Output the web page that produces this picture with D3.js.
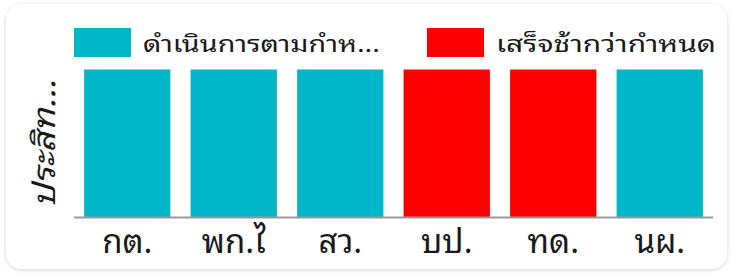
<!DOCTYPE html>
<html lang="th">
<head>
<meta charset="utf-8">
<script src="https://d3js.org/d3.v7.min.js"></script>
<style>
  body { margin: 0; background: #fff; }
  text { font-family: "Noto Sans Thai Looped", "Noto Sans", sans-serif; fill: #1a1a1a; }
</style>
</head>
<body>
<script>
// data
var categories = ["กต.", "พก.ไ", "สว.", "บป.", "ทด.", "นผ."];
var values = [1, 1, 1, 1, 1, 1];
var barStatus = ["ontime", "ontime", "ontime", "late", "late", "ontime"];
var legendKeys = ["ontime", "late"];
var legendLabels = ["ดำเนินการตามกำห...", "เสร็จช้ากว่ากำหนด"];
var yTitle = "ประสิท...";

var w = 731, h = 274;
var color = d3.scaleOrdinal().domain(legendKeys).range(["#00B6C9", "#FF0000"]);

var svg = d3.select("body").append("svg")
  .attr("width", w)
  .attr("height", h);

// card with soft border
var defs = svg.append("defs");
var f = defs.append("filter").attr("id", "sh").attr("x", "-5%").attr("y", "-5%").attr("width", "110%").attr("height", "110%");
f.append("feDropShadow").attr("dx", 0).attr("dy", 1).attr("stdDeviation", 2).attr("flood-color", "#000").attr("flood-opacity", 0.18);

svg.append("rect")
  .attr("x", 6).attr("y", 4)
  .attr("width", 721).attr("height", 265)
  .attr("rx", 16)
  .attr("fill", "#fff")
  .attr("filter", "url(#sh)");

var x = d3.scaleBand()
  .domain(categories)
  .range([74, 713])
  .paddingInner(0.19)
  .paddingOuter(0.095);

var y = d3.scaleLinear()
  .domain([0, d3.max(values)])
  .range([217.5, 69.5]);

// bars
svg.selectAll("rect.bar")
  .data(categories)
  .enter()
  .append("rect")
  .attr("class", "bar")
  .attr("x", function(d) { return x(d); })
  .attr("y", function(d, i) { return y(values[i]); })
  .attr("width", x.bandwidth())
  .attr("height", function(d, i) { return y(0) - y(values[i]); })
  .attr("fill", function(d, i) { return color(barStatus[i]); });

// x axis
var xAxis = svg.append("g")
  .attr("transform", "translate(0," + y(0) + ")")
  .call(d3.axisBottom(x).tickSize(0).tickPadding(10));
xAxis.select(".domain").attr("stroke", "#999").attr("stroke-width", 2).attr("d", "M74,0H713");
xAxis.selectAll("text")
  .style("font-size", "33px")
  .attr("fill", "#1a1a1a")
  .attr("dy", "0.78em");

// y title
svg.append("text")
  .attr("transform", "translate(55," + ((y(0) + y(d3.max(values))) / 2) + ") rotate(-90)")
  .attr("text-anchor", "middle")
  .attr("textLength", 128)
  .attr("lengthAdjust", "spacingAndGlyphs")
  .style("font-size", "31px")
  .style("font-style", "italic")
  .text(yTitle);

// legend
var legendX = [74, 427];
var legendW = [237, 220];
var lg = svg.selectAll("g.legend")
  .data(legendKeys)
  .enter()
  .append("g")
  .attr("class", "legend")
  .attr("transform", function(d, i) { return "translate(" + legendX[i] + ",28)"; });
lg.append("rect")
  .attr("width", 57).attr("height", 29)
  .attr("fill", function(d) { return color(d); });
lg.append("text")
  .attr("x", 69).attr("y", 16)
  .attr("dy", "0.35em")
  .attr("textLength", function(d, i) { return legendW[i]; })
  .attr("lengthAdjust", "spacingAndGlyphs")
  .style("font-size", "23px")
  .text(function(d, i) { return legendLabels[i]; });
</script>
</body>
</html>
